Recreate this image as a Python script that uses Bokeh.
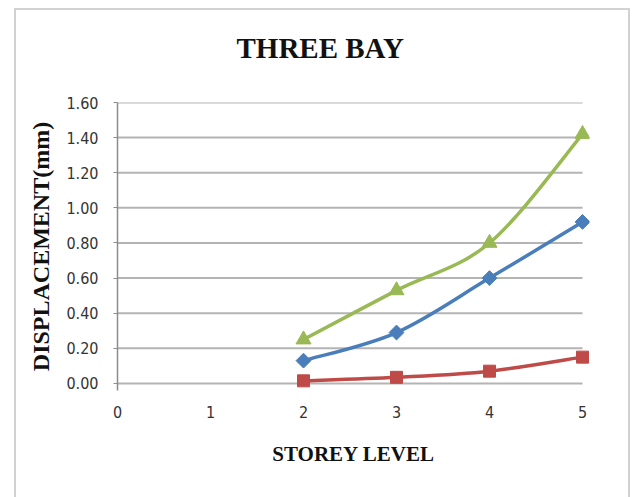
import numpy as np
from bokeh.plotting import figure
from bokeh.models import Range1d, FixedTicker, Title
from bokeh.embed import file_html
from bokeh.resources import INLINE

# Storey displacement, three-bay frame
storey = [2, 3, 4, 5]
disp_blue = [0.13, 0.29, 0.60, 0.92]
disp_red = [0.015, 0.035, 0.07, 0.15]
disp_green = [0.25, 0.53, 0.80, 1.42]

x_ticks = [0, 1, 2, 3, 4, 5]
y_ticks = [0.0, 0.2, 0.4, 0.6, 0.8, 1.0, 1.2, 1.4, 1.6]
y_tick_labels = {t: f"{t:.2f}" for t in y_ticks}

BLUE = "#4A7EBB"
RED = "#BE4B48"
GREEN = "#98B954"
GRID = "#b4b4b4"
TICK_FONT = "'DejaVu Sans Condensed', 'Liberation Sans Narrow', sans-serif"


def smooth_segments(xs, ys, t=1.0 / 6.0):
    """Cubic Bezier pieces through the points (Catmull-Rom style smoothing)."""
    x = np.asarray(xs, float)
    y = np.asarray(ys, float)
    n = len(x)
    xp = np.concatenate([[x[0]], x, [x[-1]]])
    yp = np.concatenate([[y[0]], y, [y[-1]]])
    return dict(
        x0=x[:-1], y0=y[:-1], x1=x[1:], y1=y[1:],
        cx0=x[:-1] + (xp[2:n + 1] - xp[0:n - 1]) * t,
        cy0=y[:-1] + (yp[2:n + 1] - yp[0:n - 1]) * t,
        cx1=x[1:] - (xp[3:n + 2] - xp[1:n]) * t,
        cy1=y[1:] - (yp[3:n + 2] - yp[1:n]) * t,
    )


p = figure(
    width=616, height=489,
    x_range=Range1d(0, 5.075), y_range=Range1d(-0.04, 1.6),
    output_backend="svg", toolbar_location=None,
    min_border_left=101, min_border_right=43,
    min_border_top=92, min_border_bottom=109,
)
p.title = None
p.margin = (8, 5, 0, 14)
p.styles = {
    "border-left": "2px solid #d2d2d2",
    "border-top": "2px solid #d2d2d2",
    "border-right": "2px solid #d2d2d2",
    "box-sizing": "border-box",
}
p.outline_line_color = None
p.background_fill_color = "white"
p.border_fill_color = "white"

# empty band between the heading and the plot area, then the heading itself
p.add_layout(Title(text=" ", text_font_size="30px", standoff=0), "above")
p.add_layout(Title(
    text="THREE BAY", align="left", offset=119, standoff=8,
    text_font="Liberation Serif", text_font_style="bold",
    text_font_size="29px", text_color="#111111",
), "above")

# horizontal gridlines, drawn across the storey span only
p.xgrid.visible = False
p.ygrid.visible = False
p.segment(x0=[x_ticks[0]] * len(y_ticks), x1=[x_ticks[-1]] * len(y_ticks),
          y0=y_ticks, y1=y_ticks, line_color=GRID, line_width=2)

# axes
p.xaxis.ticker = FixedTicker(ticks=x_ticks)
p.yaxis.ticker = FixedTicker(ticks=y_ticks)
p.yaxis.major_label_overrides = y_tick_labels
for ax in (p.xaxis, p.yaxis):
    ax.major_label_text_font = TICK_FONT
    ax.major_label_text_font_size = "16px"
    ax.major_label_text_color = "#333333"
    ax.minor_tick_line_color = None
    ax.axis_label_text_font = "Liberation Serif"
    ax.axis_label_text_font_style = "bold"
    ax.axis_label_text_color = "#111111"

p.xaxis.axis_line_color = None
p.xaxis.major_tick_line_color = None
p.xaxis.major_label_standoff = 9
p.xaxis.axis_label = "STOREY LEVEL"
p.xaxis.axis_label_text_font_size = "21px"
p.xaxis.axis_label_standoff = 21

p.yaxis.axis_line_color = "#8c8c8c"
p.yaxis.axis_line_width = 1.5
p.yaxis.major_tick_line_color = "#8c8c8c"
p.yaxis.major_tick_in = 0
p.yaxis.major_tick_out = 4
p.yaxis.major_label_standoff = 15
p.yaxis.axis_label = "DISPLACEMENT(mm)"
p.yaxis.axis_label_text_font_size = "24px"
p.yaxis.axis_label_standoff = 9

# smoothed series lines
for ys, col in ((disp_red, RED), (disp_blue, BLUE), (disp_green, GREEN)):
    p.bezier(**smooth_segments(storey, ys), line_color=col, line_width=3.5,
             line_cap="round")

# markers
p.scatter(storey, disp_blue, marker="square", angle=np.pi / 4, size=10.5,
          fill_color=BLUE, line_color=BLUE)
p.scatter(storey, disp_red, marker="square", size=12,
          fill_color=RED, line_color=RED)
p.scatter(storey, disp_green, marker="triangle", size=15,
          fill_color=GREEN, line_color=GREEN)

open("out.html", "w").write(file_html(p, INLINE))
